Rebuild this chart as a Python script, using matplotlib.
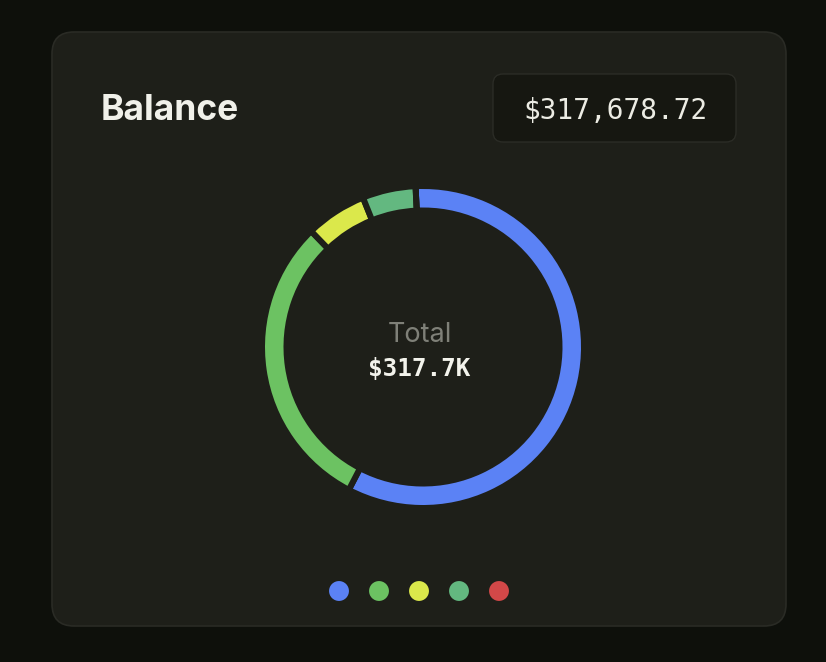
import matplotlib
matplotlib.use("Agg")
import matplotlib.pyplot as plt
from matplotlib.patches import FancyBboxPatch
import numpy as np

# ---- data ----
categories = ["Account A", "Account B", "Account C", "Account D", "Account E"]
values = [185400.00, 95800.00, 19500.00, 16978.72, 0.0]
colors = ["#5b82f5", "#6cc262", "#dbe84b", "#63b880", "#d24848"]
title = "Balance"
total_label = "$317,678.72"
center_caption = "Total"
center_value = "$317.7K"

W, H = 826, 662
DPI = 100
OUTER_BG = "#0e100b"
CARD_BG = "#1e1f19"
CARD_EDGE = "#2a2b25"
BOX_BG = "#161711"
BOX_EDGE = "#2b2c26"

fig = plt.figure(figsize=(W / DPI, H / DPI), dpi=DPI, facecolor=OUTER_BG)

# background axes in pixel coordinates
bg = fig.add_axes([0, 0, 1, 1])
bg.set_xlim(0, W)
bg.set_ylim(H, 0)
bg.axis("off")

card = FancyBboxPatch((52, 32), 734, 594, boxstyle="round,pad=0,rounding_size=22",
                      facecolor=CARD_BG, edgecolor=CARD_EDGE, linewidth=1.2)
bg.add_patch(card)

box = FancyBboxPatch((493, 74), 243, 68, boxstyle="round,pad=0,rounding_size=10",
                     facecolor=BOX_BG, edgecolor=BOX_EDGE, linewidth=1.0)
bg.add_patch(box)

bg.text(101, 120, title, fontsize=25.5, fontweight="bold", family=["Inter", "DejaVu Sans"],
        color="#f1f1ea", ha="left", va="baseline")
bg.text(616, 119, total_label, fontsize=20, family=["DejaVu Sans Mono"],
        color="#ecece4", ha="center", va="baseline")

bg.text(420, 342, center_caption, fontsize=19.5, family=["Inter", "DejaVu Sans"],
        color="#7f8078", ha="center", va="baseline")
bg.text(419, 376, center_value, fontsize=17.5, fontweight="bold", family=["DejaVu Sans Mono"],
        color="#f3f3ec", ha="center", va="baseline")

# donut
cx, cy, R = 423, 347, 158.0
half = 180.0
ax = fig.add_axes([(cx - half) / W, (H - cy - half) / H, 2 * half / W, 2 * half / H])
ax.set_facecolor("none")
gap_px = 6.0
lw_pt = gap_px * 72 / DPI
r_out = (R + gap_px / 2) / R
ring = 18.5
width = (ring + gap_px) / R
ax.pie(values, colors=colors, startangle=92.65, counterclock=False, radius=r_out,
       wedgeprops=dict(width=width, edgecolor=CARD_BG, linewidth=lw_pt))
lim = half / R
ax.set_xlim(-lim, lim)
ax.set_ylim(-lim, lim)
ax.set_aspect("equal")
ax.axis("off")

# legend dots
dax = fig.add_axes([319 / W, (H - 611) / H, 200 / W, 40 / H])
dax.set_facecolor("none")
xs = np.arange(len(categories))
dax.scatter(xs, np.zeros_like(xs), s=205, c=colors, linewidths=0)
dax.set_xlim(-0.5, len(categories) - 0.5)
dax.set_ylim(-1, 1)
dax.axis("off")

fig.savefig("out.png", dpi=DPI, facecolor=OUTER_BG)
